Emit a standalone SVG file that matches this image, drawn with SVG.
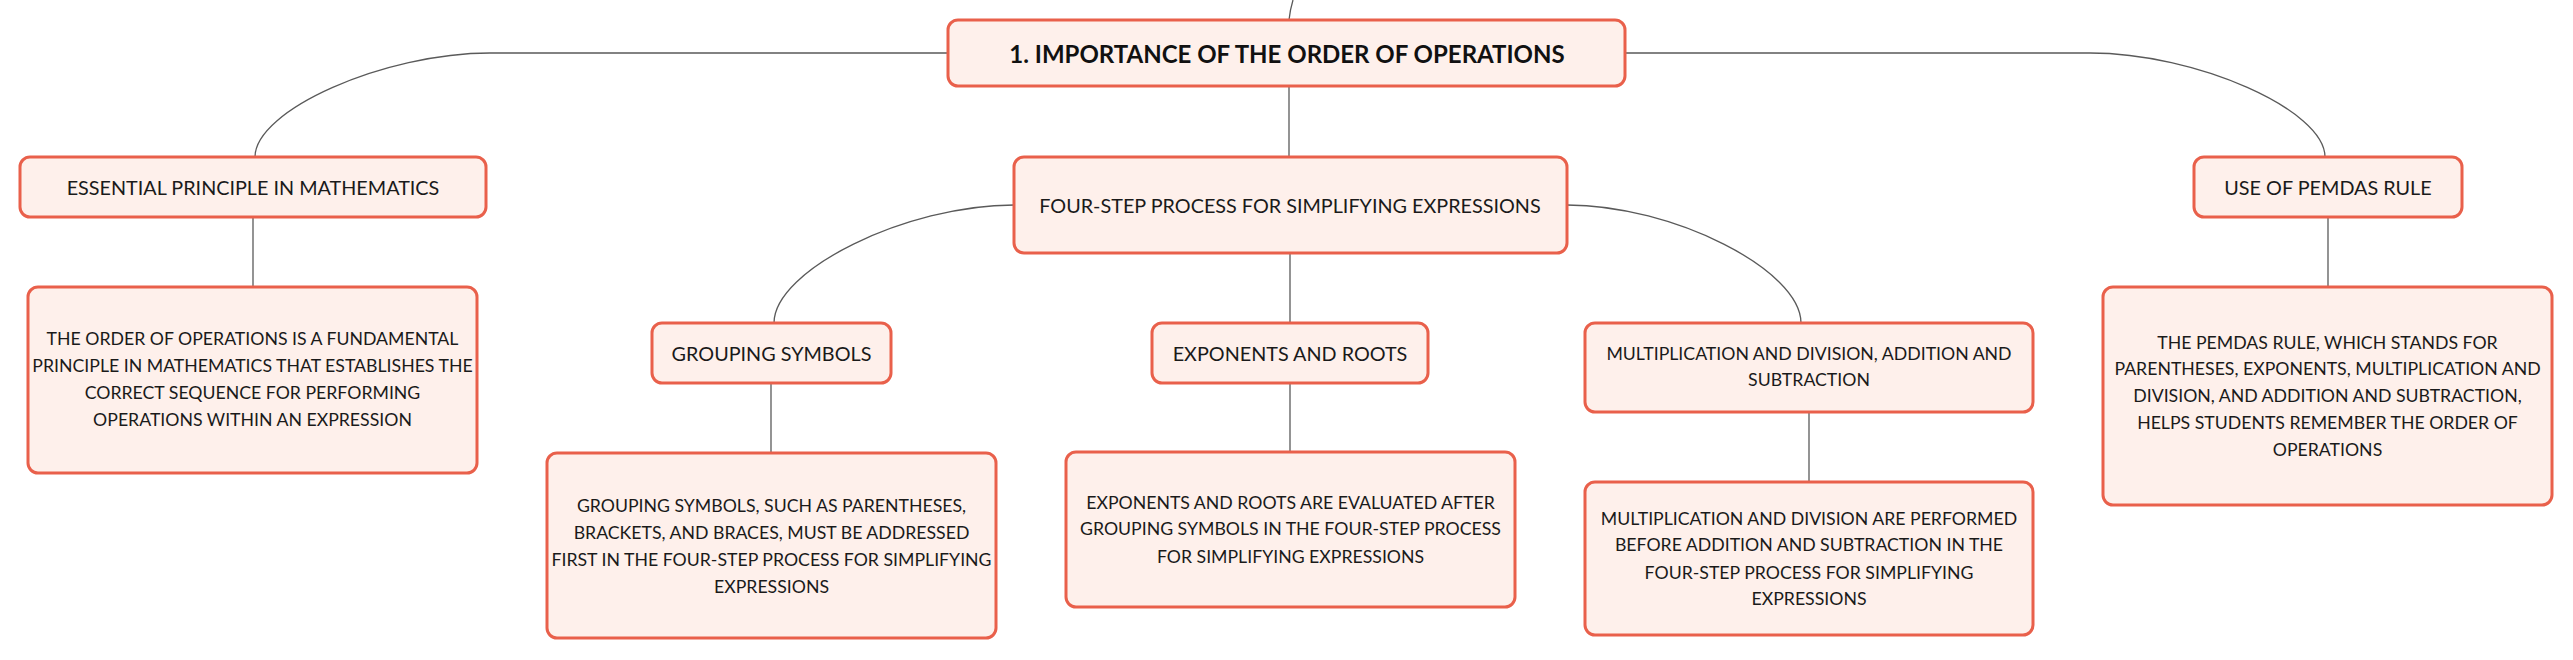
<svg xmlns="http://www.w3.org/2000/svg" width="2573" height="660" viewBox="0 0 2573 660">
<defs>
<style>
.box{fill:#FEF0EB;stroke:#E9604B;stroke-width:3}
.t{font-family:Lato,"Liberation Sans",sans-serif;font-size:19.8px;fill:#1a1a1a;text-anchor:middle;dominant-baseline:central}
.d{font-family:Lato,"Liberation Sans",sans-serif;font-size:17.7px;fill:#1a1a1a;text-anchor:middle;dominant-baseline:central}
.r{font-family:Lato,"Liberation Sans",sans-serif;font-size:24px;font-weight:bold;fill:#111;text-anchor:middle;dominant-baseline:central}
.c{fill:none;stroke:#5a5a5a;stroke-width:1.3}
</style>
</defs>
<rect width="2573" height="660" fill="#ffffff"/>
<g id="connectors">
<path class="c" d="M1293,0 Q1290,10 1289,20"/>
<path class="c" d="M948,53 L490,53 C384,53 255,110 255,157"/>
<path class="c" d="M1625,53 L2090,53 C2196,53 2325,110 2325,157"/>
<path class="c" d="M1289,86 L1289,157"/>
<path class="c" d="M253,217 L253,287"/>
<path class="c" d="M2328,217 L2328,287"/>
<path class="c" d="M1014,205 C906,205 774,270 774,323"/>
<path class="c" d="M1290,253 L1290,323"/>
<path class="c" d="M1567,205 C1673,205 1801,270 1801,323"/>
<path class="c" d="M771,383 L771,453"/>
<path class="c" d="M1290,383 L1290,452"/>
<path class="c" d="M1809,412 L1809,482"/>
</g>
<g id="root">
<rect class="box" x="948" y="20" width="677" height="66" rx="10"/>
<text class="r" x="1287" y="53">1. IMPORTANCE OF THE ORDER OF OPERATIONS</text>
</g>
<g id="four-step">
<rect class="box" x="1014" y="157" width="553" height="96" rx="10"/>
<text class="t" x="1290" y="205">FOUR-STEP PROCESS FOR SIMPLIFYING EXPRESSIONS</text>
</g>
<g id="essential">
<rect class="box" x="20" y="157" width="466" height="60" rx="10"/>
<text class="t" x="253" y="187">ESSENTIAL PRINCIPLE IN MATHEMATICS</text>
</g>
<g id="essential-desc">
<rect class="box" x="28" y="287" width="449" height="186" rx="10"/>
<text class="d" x="252.5" y="338">THE ORDER OF OPERATIONS IS A FUNDAMENTAL</text>
<text class="d" x="252.5" y="365">PRINCIPLE IN MATHEMATICS THAT ESTABLISHES THE</text>
<text class="d" x="252.5" y="392">CORRECT SEQUENCE FOR PERFORMING</text>
<text class="d" x="252.5" y="419">OPERATIONS WITHIN AN EXPRESSION</text>
</g>
<g id="pemdas">
<rect class="box" x="2194" y="157" width="268" height="60" rx="10"/>
<text class="t" x="2328" y="187">USE OF PEMDAS RULE</text>
</g>
<g id="pemdas-desc">
<rect class="box" x="2103" y="287" width="449" height="218" rx="10"/>
<text class="d" x="2327.5" y="342">THE PEMDAS RULE, WHICH STANDS FOR</text>
<text class="d" x="2327.5" y="368">PARENTHESES, EXPONENTS, MULTIPLICATION AND</text>
<text class="d" x="2327.5" y="395">DIVISION, AND ADDITION AND SUBTRACTION,</text>
<text class="d" x="2327.5" y="422">HELPS STUDENTS REMEMBER THE ORDER OF</text>
<text class="d" x="2327.5" y="449">OPERATIONS</text>
</g>
<g id="grouping">
<rect class="box" x="652" y="323" width="239" height="60" rx="10"/>
<text class="t" x="771.5" y="353">GROUPING SYMBOLS</text>
</g>
<g id="grouping-desc">
<rect class="box" x="547" y="453" width="449" height="185" rx="10"/>
<text class="d" x="771.5" y="505">GROUPING SYMBOLS, SUCH AS PARENTHESES,</text>
<text class="d" x="771.5" y="532">BRACKETS, AND BRACES, MUST BE ADDRESSED</text>
<text class="d" x="771.5" y="559">FIRST IN THE FOUR-STEP PROCESS FOR SIMPLIFYING</text>
<text class="d" x="771.5" y="586">EXPRESSIONS</text>
</g>
<g id="exponents">
<rect class="box" x="1152" y="323" width="276" height="60" rx="10"/>
<text class="t" x="1290" y="353">EXPONENTS AND ROOTS</text>
</g>
<g id="exponents-desc">
<rect class="box" x="1066" y="452" width="449" height="155" rx="10"/>
<text class="d" x="1290.5" y="502">EXPONENTS AND ROOTS ARE EVALUATED AFTER</text>
<text class="d" x="1290.5" y="528">GROUPING SYMBOLS IN THE FOUR-STEP PROCESS</text>
<text class="d" x="1290.5" y="556">FOR SIMPLIFYING EXPRESSIONS</text>
</g>
<g id="mult">
<rect class="box" x="1585" y="323" width="448" height="89" rx="10"/>
<text class="d" x="1809" y="353">MULTIPLICATION AND DIVISION, ADDITION AND</text>
<text class="d" x="1809" y="379">SUBTRACTION</text>
</g>
<g id="mult-desc">
<rect class="box" x="1585" y="482" width="448" height="153" rx="10"/>
<text class="d" x="1809" y="518">MULTIPLICATION AND DIVISION ARE PERFORMED</text>
<text class="d" x="1809" y="544">BEFORE ADDITION AND SUBTRACTION IN THE</text>
<text class="d" x="1809" y="572">FOUR-STEP PROCESS FOR SIMPLIFYING</text>
<text class="d" x="1809" y="598">EXPRESSIONS</text>
</g>
</svg>
